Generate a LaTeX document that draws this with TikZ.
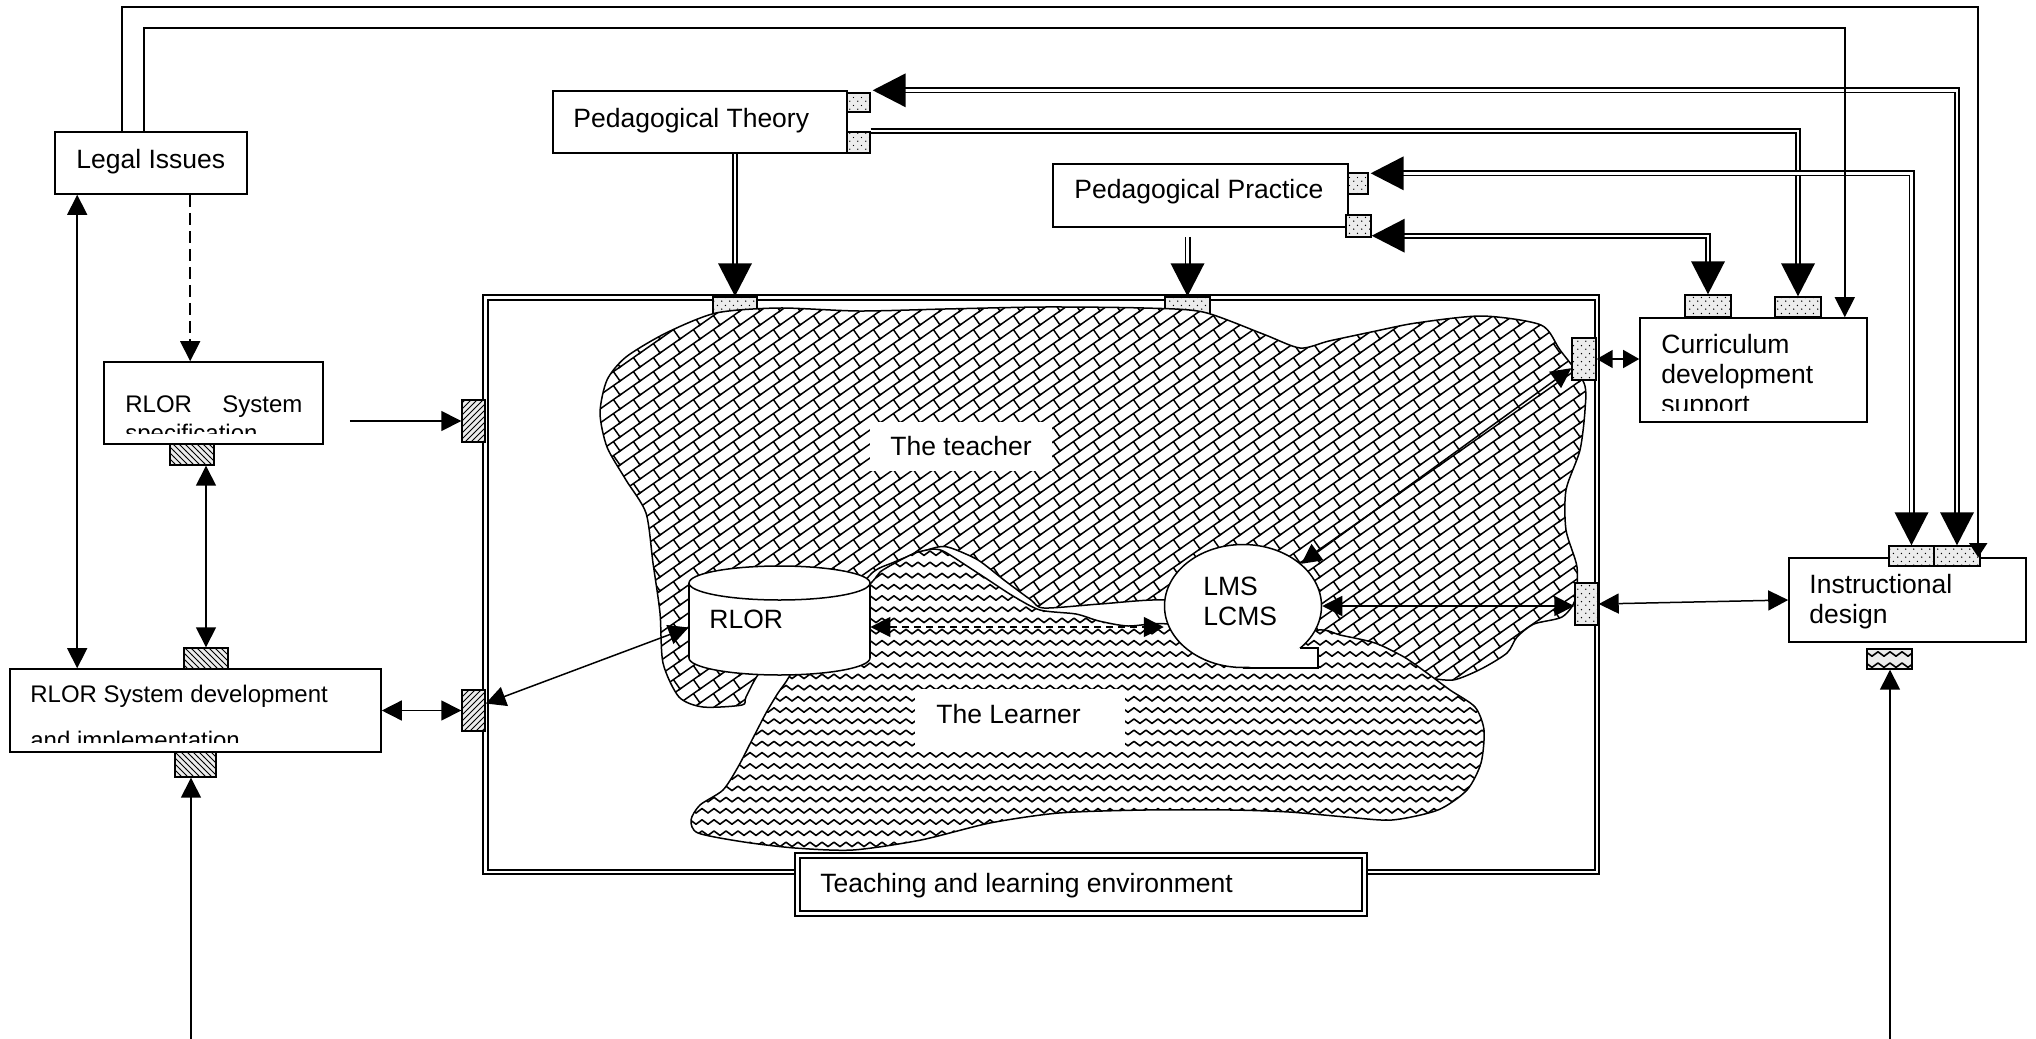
\documentclass[tikz,border=0pt]{standalone}
\usepackage{fontspec}
\setmainfont{Liberation Sans}
\usetikzlibrary{arrows.meta,patterns,shapes.geometric,calc}

\pgfdeclarepatternformonly{diagbrick}{\pgfqpoint{-1pt}{-1pt}}{\pgfqpoint{11pt}{8pt}}{\pgfqpoint{10pt}{7pt}}{%
  \pgfsetlinewidth{0.75pt}%
  \pgfpathmoveto{\pgfqpoint{-1pt}{-0.7pt}}\pgfpathlineto{\pgfqpoint{11pt}{7.7pt}}%
  \pgfpathmoveto{\pgfqpoint{10pt}{0pt}}\pgfpathlineto{\pgfqpoint{6.711pt}{4.698pt}}%
  \pgfusepath{stroke}}
\pgfdeclarepatternformonly{zigzagp}{\pgfqpoint{-0.5pt}{-0.5pt}}{\pgfqpoint{6.5pt}{6.1pt}}{\pgfqpoint{6pt}{5.6pt}}{%
  \pgfsetlinewidth{0.8pt}\pgfsetroundcap\pgfsetroundjoin
  \pgfpathmoveto{\pgfqpoint{0pt}{1pt}}\pgfpathlineto{\pgfqpoint{3pt}{3.2pt}}\pgfpathlineto{\pgfqpoint{6pt}{1pt}}%
  \pgfusepath{stroke}}
\pgfdeclarepatternformonly{sparsedots}{\pgfqpoint{0pt}{0pt}}{\pgfqpoint{4pt}{4pt}}{\pgfqpoint{4pt}{4pt}}{%
  \pgfpathcircle{\pgfqpoint{1pt}{1pt}}{0.4pt}%
  \pgfpathcircle{\pgfqpoint{3pt}{3pt}}{0.4pt}%
  \pgfusepath{fill}}

\newcommand\tipdown[1]{\fill (#1) -- ++(-8.5pt,16.5pt) -- ++(17pt,0pt) -- cycle;}
\newcommand\tipleft[1]{\fill (#1) -- ++(16.5pt,8.5pt) -- ++(0pt,-17pt) -- cycle;}

\begin{document}
\begin{tikzpicture}[x=0.5pt,y=-0.5pt,
  txt/.style={font=\fontsize{13.25}{15}\selectfont, inner sep=0pt, anchor=base west},
  stxt/.style={font=\fontsize{12}{14}\selectfont, inner sep=0pt, anchor=base west},
  box/.style={draw, line width=0.8pt, fill=white, inner sep=0pt},
  port/.style={draw, line width=0.7pt, fill=gray!15, inner sep=0pt},
  dotport/.style={port, postaction={pattern=sparsedots}},
  nehatch/.style={port, postaction={pattern=north east lines}},
  nwhatch/.style={port, postaction={pattern=north west lines}},
  waveport/.style={port, postaction={pattern=zigzagp}},
  ln/.style={line width=0.75pt},
  ar/.style={ln, -{Triangle[width=10pt,length=10pt]}},
  arr2/.style={ln, {Triangle[width=10pt,length=10pt]}-{Triangle[width=10pt,length=10pt]}},
  arrs/.style={ln, {Triangle[width=9pt,length=8pt]}-{Triangle[width=9pt,length=8pt]}},
  dbl/.style={double, line width=0.9pt, double distance=1.2pt},
  whitelab/.style={fill=white, inner sep=0pt}
]
\fill[white] (0,0) rectangle (2036,1039);
\useasboundingbox (0,0) rectangle (2036,1039);

% ---------- environment frame ----------
\node[draw, line width=1.1pt, inner sep=0pt, minimum width=558pt, minimum height=289.5pt] (env) at (1041,584.5) {};
\draw[line width=0.7pt] ($(env.north west)+(6,6)$) rectangle ($(env.south east)+(-5,-5)$);

% top ports
\node[dotport, minimum width=22pt, minimum height=9.5pt] (tp1) at (735,306.5) {};
\node[dotport, minimum width=22.5pt, minimum height=9.5pt] (tp2) at (1187.5,306.5) {};

% ---------- teacher ----------
\draw[ln, preaction={fill=white}, pattern=diagbrick] plot[smooth cycle, tension=0.45] coordinates {
(716,313) (779,308) (859,311) (945,309) (1044,307) (1144,308) (1203,312) (1263,334)
(1300,348) (1329,341) (1376,331) (1416,323) (1482,316) (1541,325) (1560,350) (1584,383)
(1585,410) (1580,450) (1566,490) (1566,530) (1577,567) (1575,600) (1562,617) (1534,624)
(1517,637) (1507,653) (1481,669) (1453,680) (1424,677) (1405,672) (1370,662) (1330,650)
(1290,638) (1243,612) (1166,600) (1100,604) (1044,608) (1031,600) (1004,580) (978,560)
(951,548) (938,547) (912,555) (892,563) (872,573) (840,610) (790,645) (760,672)
(746,697) (742,705) (703,707) (679,697) (663,663) (660,613) (653,563) (646,513)
(626,480) (607,447) (600,413) (607,380) (626,357) (666,333)};

% ---------- learner ----------
\draw[ln, preaction={fill=white}, pattern=zigzagp] plot[smooth cycle, tension=0.45] coordinates {
(840,612) (872,582) (880,572) (895,563) (915,553) (934,549) (945,552) (967,566)
(990,581) (1013,596) (1040,610) (1076,614) (1099,621) (1128,626) (1168,624) (1243,640)
(1318,630) (1340,635) (1375,643) (1404,657) (1427,673) (1450,690) (1475,707) (1484,730)
(1481,763) (1467,790) (1438,810) (1392,820) (1346,817) (1289,812) (1231,810) (1145,810)
(1059,813) (990,823) (921,840) (853,850) (795,848) (744,842) (698,833) (691,820)
(700,805) (723,790) (738,767) (752,740) (766,713) (778,693) (789,677) (805,645)};

% labels in regions
\node[whitelab, minimum width=91pt, minimum height=24.5pt] (teachB) at (961,446.5) {};
\node[txt] (teachT) at (890,455) {The teacher};
\node[whitelab, minimum width=105pt, minimum height=31.5pt] (learnB) at (1020,720.5) {};
\node[txt] (learnT) at (936,723) {The Learner};

% ---------- RLOR cylinder ----------
\draw[ln, fill=white] (779.5,658) ellipse [x radius=45.25pt, y radius=8.5pt];
\fill[white] (689,583) rectangle (870,658);
\draw[ln] (689,583) -- (689,658) (870,583) -- (870,658);
\draw[ln, fill=white] (779.5,583) ellipse [x radius=45.25pt, y radius=8.5pt];
\node[inner sep=0pt, minimum width=90.5pt, minimum height=54.5pt] (rlor) at (779.5,620.5) {};
\node[txt] (rlorT) at (709,628) {RLOR};

% ---------- LMS ----------
\node[draw, ln, ellipse, fill=white, minimum width=78.5pt, minimum height=61.5pt, inner sep=0pt] (lms) at (1243,606) {};
\fill[white] (1243,669) -- (1318,669) -- (1318,648) -- (1299,648) -- cycle;
\draw[ln] (1243,668) -- (1318,668) -- (1318,648) -- (1300,648);
\node[txt] (lmsT1) at (1203,595) {LMS};
\node[txt] (lmsT2) at (1203,625) {LCMS};

% side ports
\node[nehatch, minimum width=11.5pt, minimum height=21pt] (lpA) at (473.5,421) {};
\node[nehatch, minimum width=11.5pt, minimum height=20.5pt] (lpB) at (473.5,710.5) {};
\node[dotport, minimum width=12pt, minimum height=21pt] (rp1) at (1584,359) {};
\node[dotport, minimum width=11.5pt, minimum height=21pt] (rp2) at (1586.5,604) {};

% label of environment
\node[draw, line width=1.4pt, fill=white, inner sep=0pt, minimum width=286pt, minimum height=31.5pt] (envlab) at (1081,884.5) {};
\draw[line width=1pt] ($(envlab.north west)+(6,6)$) rectangle ($(envlab.south east)+(-6,-6)$);
\node[txt] (envT) at (820,892) {Teaching and learning environment};

% ---------- outer boxes ----------
\node[box, minimum width=96pt, minimum height=31pt] (legal) at (151,163) {};
\node[txt] (legalT) at (76,168) {Legal Issues};
\node[box, minimum width=147pt, minimum height=31pt] (pt) at (700,122) {};
\node[txt] (ptT) at (573,127) {Pedagogical Theory};
\node[box, minimum width=147.5pt, minimum height=31.5pt] (pp) at (1200.5,195.5) {};
\node[txt] (ppT) at (1074,198) {Pedagogical Practice};

\node[box, minimum width=109.5pt, minimum height=41pt] (spec) at (213.5,403) {};
\begin{scope}
  \clip ($(spec.north west)+(2,2)$) rectangle ($(spec.south east)+(-2,-11)$);
  \node[stxt] (specT1) at (125,412) {\hbox to 88.5pt{RLOR\hfill System}};
  \node[stxt] (specT2) at (125,441) {specification};
\end{scope}

\node[box, minimum width=185.5pt, minimum height=41.5pt] (dev) at (195.5,710.5) {};
\begin{scope}
  \clip ($(dev.north west)+(2,2)$) rectangle ($(dev.south east)+(-2,-10)$);
  \node[stxt] (devT1) at (30,702) {RLOR System development};
  \node[stxt] (devT2) at (30,748) {and implementation};
\end{scope}

\node[box, minimum width=113.5pt, minimum height=52pt] (curr) at (1753.5,370) {};
\begin{scope}
  \clip ($(curr.north west)+(2,2)$) rectangle ($(curr.south east)+(-2,-12)$);
  \node[txt] (currT1) at (1661,353) {Curriculum};
  \node[txt] (currT2) at (1661,383) {development};
  \node[txt] (currT3) at (1661,413) {support};
\end{scope}

\node[box, minimum width=118.5pt, minimum height=42pt] (idb) at (1907.5,600) {};
\node[txt] (idT1) at (1809,593) {Instructional};
\node[txt] (idT2) at (1809,623) {design};

% small ports of outer boxes
\node[nwhatch, minimum width=22pt, minimum height=10.5pt] (specb) at (192,454.5) {};
\node[nwhatch, minimum width=22pt, minimum height=10.5pt] (devt) at (206,658.5) {};
\node[nwhatch, minimum width=20.5pt, minimum height=12.5pt] (devb) at (195.5,764.5) {};
\node[dotport, minimum width=11.5pt, minimum height=9.5pt] (ptr1) at (858.5,102.5) {};
\node[dotport, minimum width=11.5pt, minimum height=10.5pt] (ptr2) at (858.5,142.5) {};
\node[dotport, minimum width=10pt, minimum height=10.5pt] (ppr1) at (1358,183.5) {};
\node[dotport, minimum width=12.5pt, minimum height=11pt] (ppr2) at (1358.5,226) {};
\node[dotport, minimum width=23pt, minimum height=11pt] (ct1) at (1708,306) {};
\node[dotport, minimum width=23pt, minimum height=10pt] (ct2) at (1798,307) {};
\node[dotport, minimum width=22.5pt, minimum height=10pt] (it1) at (1911.5,556) {};
\node[dotport, minimum width=23pt, minimum height=10pt] (it2) at (1957,556) {};
\node[waveport, minimum width=22.5pt, minimum height=10pt] (idbr) at (1889.5,659) {};

% ---------- connectors: double lines ----------
\draw[dbl, shorten >=10pt] (tp1.north |- pt.south) -- (tp1.north);
\tipdown{tp1.north}
\draw[dbl, shorten >=10pt] ($(tp2.north |- pp.south)+(0,9)$) -- (tp2.north);
\tipdown{tp2.north}

\coordinate (a1) at ($(ptr1.north east)+(2,-2)$);
\draw[dbl, shorten <=10pt, shorten >=10pt] (a1) -| (it2.north);
\tipleft{a1}
\tipdown{it2.north}

\draw[dbl, shorten >=10pt] ($(ptr2.north east)+(0,-0.5)$) -| (ct2.north);
\tipdown{ct2.north}

\coordinate (a3) at ($(ppr1.north east)+(2,1)$);
\draw[dbl, shorten <=10pt, shorten >=10pt] (a3) -| (it1.north);
\tipleft{a3}
\tipdown{it1.north}

\coordinate (a4) at ($(ppr2.south east)+(0,-2)$);
\draw[dbl, shorten <=10pt, shorten >=10pt] (a4) -| (ct1.north);
\tipleft{a4}
\tipdown{ct1.north}

% ---------- connectors: Legal Issues ----------
\draw[ln, -{Triangle[width=9pt,length=7pt]}] ($(legal.north west)+(68,0)$) |- ($(idb.north west)+(190,-550)$) -- ($(idb.north west)+(190,0)$);
\draw[ln, -{Triangle[width=10pt,length=10pt]}] ($(legal.north west)+(90,0)$) |- ($(curr.north east)+(-23,-289)$) -- ($(curr.north east)+(-23,0)$);
\draw[ln, dash pattern=on 6pt off 3pt, -{Triangle[width=10pt,length=10pt]}] ($(legal.south west)+(136,0)$) -- ($(spec.north west)+(87,0)$);
\draw[arr2] ($(legal.south west)+(23,0)$) -- ($(dev.north west)+(68,0)$);

% ---------- other connectors ----------
\draw[ar] ($(spec.east |- lpA.west)+(26,0)$) -- (lpA.west);
\draw[arr2] (devt.north |- specb.south) -- (devt.north);
\draw[arr2] (dev.east |- lpB.west) -- (lpB.west);
\coordinate (bot1) at (191,1039);
\draw[ar] (bot1) -- (bot1 |- devb.south);
\coordinate (bot2) at (1890,1039);
\draw[ar] (bot2) -- (bot2 |- idbr.south);

\draw[arr2, dash pattern=on 3.5pt off 2.5pt] ([yshift=-3.25pt]rlor.east) -- ([yshift=-3.25pt]rlor.east -| lms.west);
\draw[arr2] ([yshift=-3.5pt]rlor.west) -- ([yshift=3.5pt]lpB.east);
\draw[arr2] (lms) -- (rp1);
\draw[arr2] (lms.east) -- (lms.east -| rp2.west);
\draw[arrs] (rp1.east) -- (rp1.east -| curr.west);
\draw[arr2] (rp2.east) -- (idb.west);
\end{tikzpicture}
\end{document}
